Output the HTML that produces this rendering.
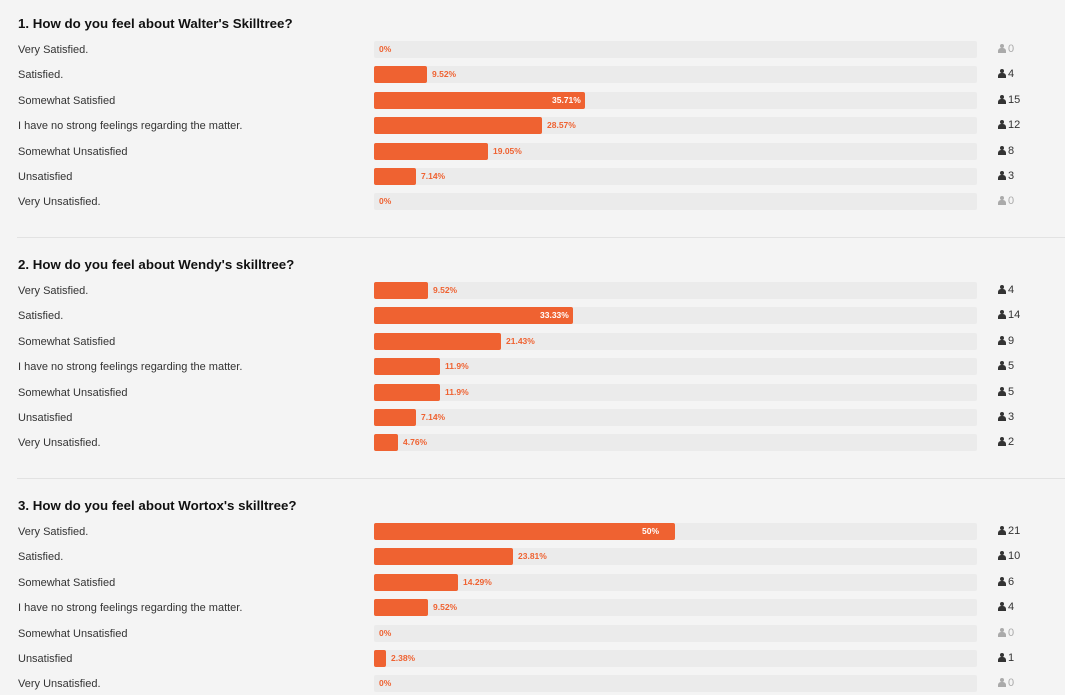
<!DOCTYPE html><html><head><style>
body{margin:0;width:1065px;height:695px;background:#f4f4f4;font-family:"Liberation Sans",Arial,sans-serif;overflow:hidden;position:relative}
.sec{position:absolute;left:0;width:1065px}
h2{position:absolute;left:18px;margin:0;font-size:13.3px;font-weight:bold;color:#111;top:-7px}
.row{position:absolute;left:0;width:1065px;height:17px}
.lab{position:absolute;left:18px;top:3px;font-size:11px;color:#333}
.track{position:absolute;left:374px;width:603px;top:0;height:17px;background:#ebebeb;border-radius:2px}
.bar{position:absolute;left:0;top:0;height:17px;background:#ef6231;border-radius:2px}
.pct{position:absolute;top:3px;font-size:8.5px;font-weight:bold;color:#ef6231}
.in{color:#fff}
.cnt{position:absolute;left:998px;top:2px;font-size:11px;color:#333}
.cnt.z{color:#aaa}
.ic{display:inline-block;width:8px;height:9px;position:relative;vertical-align:-1px;margin-right:2px}
.ic:before{content:"";position:absolute;left:2px;top:0;width:4px;height:4px;border-radius:50%;background:currentColor}
.ic:after{content:"";position:absolute;left:0;top:4px;width:8px;height:5px;border-radius:3px 3px 0 0;background:currentColor}
.hr{position:absolute;left:17px;right:0;height:1px;background:#e2e2e2}
</style></head><body>
<div class="hr" style="top:237px"></div>
<div class="hr" style="top:478px"></div>
<div id="c"></div>
<script>
var S=[["1. How do you feel about Walter's Skilltree?",[0,9.52,35.71,28.57,19.05,7.14,0],[0,4,15,12,8,3,0],[0,53,211,168,114,42,0]],
["2. How do you feel about Wendy's skilltree?",[9.52,33.33,21.43,11.9,11.9,7.14,4.76],[4,14,9,5,5,3,2],[54,199,127,66,66,42,24]],
["3. How do you feel about Wortox's skilltree?",[50,23.81,14.29,9.52,0,2.38,0],[21,10,6,4,0,1,0],[301,139,84,54,0,12,0]]];
var L=["Very Satisfied.","Satisfied.","Somewhat Satisfied","I have no strong feelings regarding the matter.","Somewhat Unsatisfied","Unsatisfied","Very Unsatisfied."];
var h="";
S.forEach(function(s,i){var base=i*241;
h+='<div class="sec" style="top:'+(base+23)+'px"><h2>'+s[0]+'</h2></div>';
for(var r=0;r<7;r++){var top=base+41+r*25.4,w=s[3][r],p=s[1][r];
var pc=w>180?'<span class="pct in" style="left:'+(w-33)+'px">'+p+'%</span>':'<span class="pct" style="left:'+(w+5)+'px">'+p+'%</span>';
h+='<div class="row" style="top:'+top+'px"><span class="lab">'+L[r]+'</span><div class="track">'+(w?'<div class="bar" style="width:'+w+'px"></div>':'')+pc+'</div><span class="cnt'+(s[2][r]?'':' z')+'"><i class="ic"></i>'+s[2][r]+'</span></div>';}
});
document.getElementById("c").innerHTML=h;
</script></body></html>
